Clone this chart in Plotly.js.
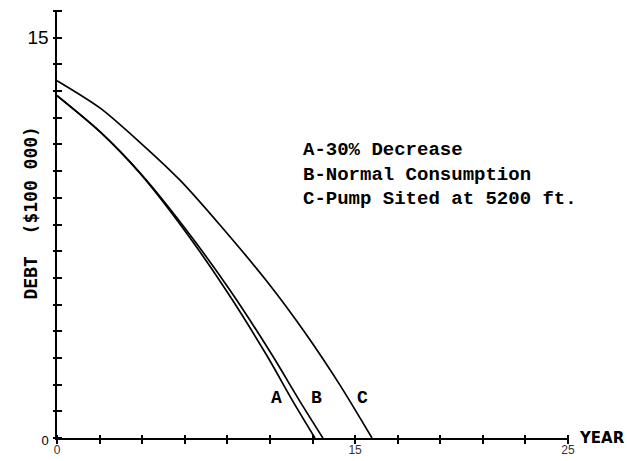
<!DOCTYPE html>
<html>
<head>
<meta charset="utf-8">
<script src="https://cdn.plot.ly/plotly-3.0.1.min.js"></script>
<style>html,body{margin:0;padding:0;background:#fff;}#chart{width:627px;height:461px;}</style>
</head>
<body>
<div id="chart"></div>
<script>
// Years and debt (units of $100 000)
const yearsA = [0, 2.16, 4.17, 6.34, 8.55, 10.56, 11.82, 12.98];
const debtA  = [12.83, 11.48, 9.92, 7.86, 5.49, 3.09, 1.44, 0];
const yearsB = [0, 2.16, 4.20, 6.44, 8.75, 10.84, 12.17, 13.38];
const debtB  = [12.83, 11.48, 9.92, 7.86, 5.49, 3.09, 1.44, 0];
const yearsC = [0, 2.16, 4.17, 6.19, 8.20, 10.56, 12.58, 14.24, 15.85];
const debtC  = [13.39, 12.37, 11.08, 9.66, 7.98, 5.87, 3.84, 1.98, 0];

const curveNames = ["A", "B", "C"];
const curveLabelX = [11.07, 13.08, 15.35];
const curveLabelY = [1.5, 1.5, 1.5];
const legendLines = ["A-30% Decrease", "B-Normal Consumption", "C-Pump Sited at 5200 ft."];

const xTickVals = [0, 2.143, 4.286, 6.429, 8.571, 10.714, 12.857, 15, 17.143, 19.286, 21.429, 23.571, 25.714];
const xTickText = ["0", "", "", "", "", "", "", "15", "", "", "", "", "25"];
const yTickVals = [0,1,2,3,4,5,6,7,8,9,10,11,12,13,14,15,16];
const yTickText = ['<span style="font-size:13px">0</span>',"","","","","","","","","","","","","","","15",""];

const xTitle = "YEAR";
const yTitle = "DEBT  ($100 000)";

const lineStyle = {color: "#000", width: 1.7, shape: "spline", smoothing: 0.8};
const traces = [
  {x: yearsA, y: debtA, mode: "lines", line: lineStyle, name: curveNames[0], hoverinfo: "skip"},
  {x: yearsB, y: debtB, mode: "lines", line: lineStyle, name: curveNames[1], hoverinfo: "skip"},
  {x: yearsC, y: debtC, mode: "lines", line: lineStyle, name: curveNames[2], hoverinfo: "skip"},
  {x: [-100], y: [-100], xaxis: "x2", yaxis: "y2", mode: "markers", marker: {size: 1, color: "rgba(0,0,0,0)"}, hoverinfo: "skip"}
];

const xr = [0, 25.714], yr = [0, 16];
const half = 4.5; // half tick length (px): ticks cross the axis line
const plotW = 627 - 57 - 59, plotH = 461 - 11 - 23;
const baseAxis = {showgrid: false, zeroline: false, fixedrange: true, tickcolor: "#000", tickwidth: 2};

const annotations = [];
for (let i = 0; i < curveNames.length; i++) {
  annotations.push({x: curveLabelX[i], y: curveLabelY[i], xref: "x", yref: "y", text: curveNames[i],
    showarrow: false, font: {family: "Liberation Mono", size: 18, weight: "bold", color: "#000"}});
}
annotations.push({x: 0.4775, y: 0.618, xref: "paper", yref: "paper", xanchor: "left", yanchor: "middle",
  align: "left", text: legendLines.join("<br>"), showarrow: false,
  font: {family: "Liberation Mono", size: 19, weight: "bold", color: "#000"}});
annotations.push({x: -0.0763, y: 0.527, xref: "paper", yref: "paper", text: yTitle, textangle: -90,
  showarrow: false, font: {family: "DejaVu Sans Mono", size: 18, weight: "bold", color: "#000"}});
annotations.push({x: 1.0176, y: 0, xref: "paper", yref: "paper", xanchor: "left", yanchor: "middle",
  text: xTitle, showarrow: false, font: {family: "DejaVu Sans", size: 15, weight: "bold", color: "#000"}});

const layout = {
  width: 627, height: 461,
  margin: {l: 57, r: 59, t: 11, b: 23},
  paper_bgcolor: "rgba(0,0,0,0)", plot_bgcolor: "rgba(0,0,0,0)",
  showlegend: false,
  font: {family: "Liberation Sans", color: "#000"},
  // tick axes: shifted inward by half a tick, ticks drawn outward with full length -> crossing ticks
  xaxis: Object.assign({}, baseAxis, {range: xr, anchor: "free", position: half / plotH, showline: false,
    ticks: "outside", ticklen: 2 * half, tickmode: "array", tickvals: xTickVals, ticktext: xTickText,
    ticklabelstandoff: -4, tickfont: {family: "Liberation Sans", size: 12, color: "#333"}}),
  yaxis: Object.assign({}, baseAxis, {range: yr, anchor: "free", position: half / plotW, showline: false,
    ticks: "outside", ticklen: 2 * half, tickmode: "array", tickvals: yTickVals, ticktext: yTickText,
    tickfont: {family: "Liberation Sans", size: 19, color: "#000"}}),
  // line axes
  xaxis2: Object.assign({}, baseAxis, {range: xr, overlaying: "x", anchor: "y2", side: "bottom",
    showline: true, linecolor: "#000", linewidth: 2, ticks: "", showticklabels: false}),
  yaxis2: Object.assign({}, baseAxis, {range: yr, overlaying: "y", anchor: "x2", side: "left",
    showline: true, linecolor: "#000", linewidth: 2, ticks: "", showticklabels: false}),
  annotations: annotations
};

Plotly.newPlot("chart", traces, layout, {staticPlot: true, displayModeBar: false});
</script>
</body>
</html>
